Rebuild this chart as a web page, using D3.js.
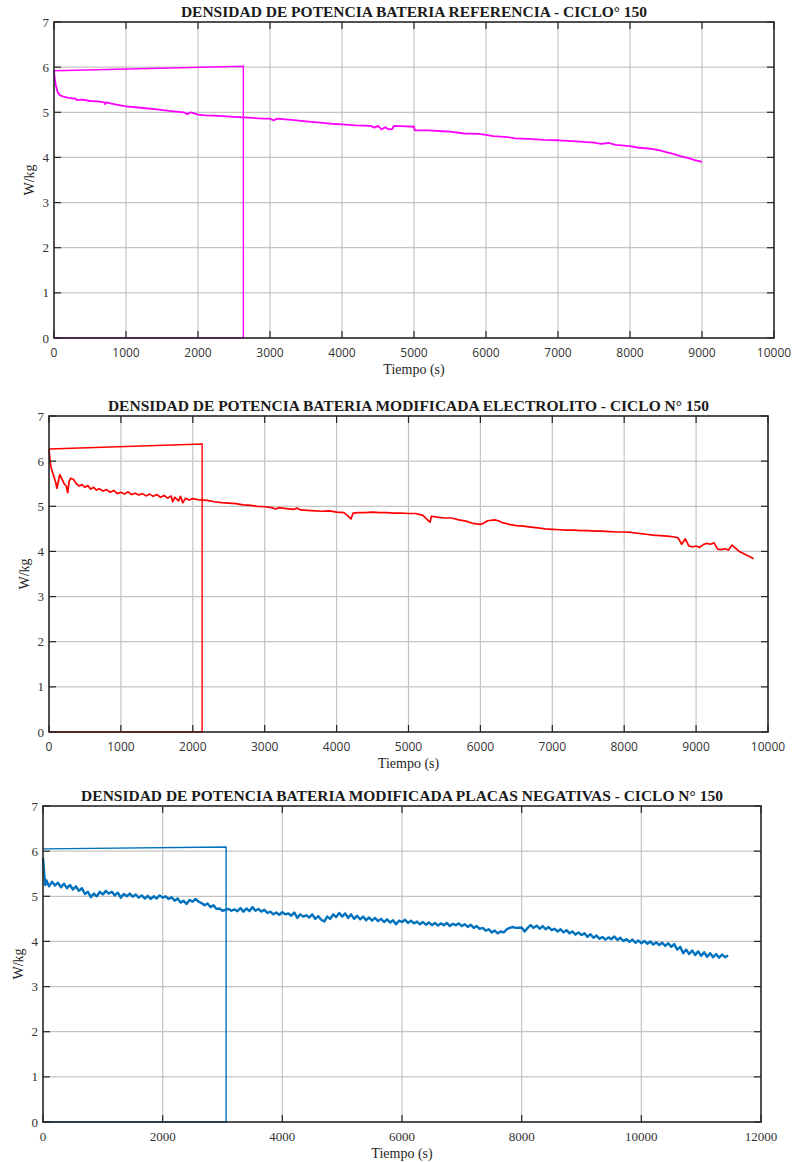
<!DOCTYPE html>
<html>
<head>
<meta charset="utf-8">
<script src="https://cdn.jsdelivr.net/npm/d3@7"></script>
<style>
  body { margin: 0; background: #fff; }
</style>
</head>
<body>
<div id="chart"></div>
<script>
// Power density data, pairs of [time (s), W/kg]
const yTicks = [0, 1, 2, 3, 4, 5, 6, 7];

const refLoop = [[0, 0], [2630, 0], [2630, 6.02], [0, 5.92]];
const refCurve = [[0,5.92],[10,5.75],[25,5.6],[50,5.45],[80,5.38],[120,5.35],[200,5.32],[300,5.3],[320,5.27],[400,5.28],
  [500,5.25],[600,5.24],[700,5.22],[710,5.18],[720,5.22],[800,5.19],[900,5.16],[1000,5.13],[1200,5.1],[1400,5.07],
  [1600,5.03],[1800,5.0],[1850,4.96],[1900,5.0],[2000,4.95],[2100,4.93],[2300,4.92],[2500,4.9],[2700,4.88],[2900,4.86],
  [3000,4.86],[3050,4.82],[3100,4.86],[3300,4.83],[3500,4.8],[3700,4.77],[3900,4.74],[4000,4.73],[4200,4.71],[4400,4.7],
  [4450,4.66],[4500,4.7],[4550,4.62],[4600,4.67],[4650,4.62],[4700,4.63],[4720,4.7],[4900,4.69],[5000,4.68],[5010,4.6],
  [5200,4.6],[5400,4.58],[5500,4.57],[5700,4.53],[5900,4.52],[6000,4.5],[6100,4.47],[6300,4.45],[6400,4.42],[6600,4.41],
  [6800,4.39],[7000,4.38],[7200,4.36],[7400,4.34],[7500,4.33],[7600,4.3],[7700,4.32],[7800,4.28],[8000,4.25],[8100,4.22],
  [8300,4.19],[8400,4.16],[8500,4.12],[8600,4.08],[8700,4.03],[8800,3.99],[8900,3.94],[9000,3.9]];

const elecLoop = [[0, 0], [2130, 0], [2130, 6.38], [0, 6.27]];
const elecCurve = [[0,6.27],[15,6.0],[30,5.85],[50,5.75],[70,5.65],[90,5.55],[110,5.4],[130,5.55],[150,5.7],[180,5.6],
  [210,5.5],[240,5.45],[260,5.3],[280,5.55],[300,5.62],[340,5.6],[380,5.5],[420,5.45],[460,5.48],[500,5.42],
  [540,5.46],[580,5.38],[620,5.42],[660,5.36],[700,5.39],[750,5.34],[800,5.37],[850,5.31],[900,5.35],[950,5.28],
  [1000,5.31],[1050,5.27],[1100,5.32],[1150,5.26],[1200,5.29],[1250,5.25],[1300,5.28],[1350,5.23],[1400,5.27],[1450,5.22],
  [1500,5.26],[1550,5.2],[1600,5.24],[1650,5.18],[1700,5.23],[1720,5.1],[1750,5.2],[1800,5.12],[1830,5.22],[1860,5.08],
  [1900,5.18],[1950,5.14],[2000,5.17],[2100,5.14],[2200,5.13],[2300,5.1],[2400,5.08],[2500,5.07],[2600,5.06],[2700,5.03],
  [2800,5.02],[2900,5.0],[3000,4.99],[3100,4.97],[3150,4.94],[3200,4.97],[3300,4.95],[3400,4.93],[3450,4.96],[3500,4.92],
  [3600,4.91],[3700,4.9],[3800,4.89],[3900,4.9],[4000,4.87],[4100,4.86],[4150,4.8],[4200,4.72],[4230,4.85],[4300,4.86],
  [4400,4.86],[4500,4.87],[4600,4.86],[4700,4.86],[4800,4.85],[4900,4.85],[5000,4.84],[5100,4.84],[5200,4.8],[5250,4.72],
  [5300,4.65],[5320,4.78],[5400,4.76],[5500,4.74],[5600,4.74],[5700,4.7],[5800,4.67],[5900,4.62],[6000,4.6],[6050,4.63],
  [6100,4.68],[6200,4.7],[6250,4.68],[6300,4.64],[6400,4.6],[6500,4.57],[6600,4.56],[6700,4.54],[6800,4.52],[6900,4.5],
  [7000,4.49],[7100,4.48],[7200,4.47],[7300,4.47],[7400,4.46],[7500,4.46],[7600,4.45],[7700,4.45],[7800,4.44],[7900,4.43],
  [8000,4.43],[8100,4.42],[8200,4.4],[8300,4.38],[8400,4.36],[8500,4.35],[8600,4.34],[8700,4.32],[8750,4.3],[8800,4.16],
  [8850,4.28],[8900,4.12],[8950,4.1],[9000,4.12],[9050,4.09],[9100,4.15],[9150,4.18],[9200,4.16],[9250,4.19],[9300,4.05],
  [9350,4.04],[9400,4.06],[9450,4.03],[9500,4.14],[9550,4.07],[9600,4.0],[9650,3.96],[9700,3.92],[9750,3.88],[9800,3.84]];

const negLoop = [[0, 0], [3060, 0], [3060, 6.09], [0, 6.05]];
const negCurve = [[0,5.85],[20,5.5],[40,5.25],[60,5.35],[100,5.22],[150,5.32],[200,5.24],[250,5.3],[300,5.2],[350,5.28],
  [400,5.18],[450,5.25],[500,5.15],[550,5.22],[600,5.12],[650,5.18],[700,5.05],[750,5.1],[800,4.98],[850,5.06],
  [900,5.0],[950,5.1],[1000,5.04],[1050,5.12],[1100,5.06],[1150,5.1],[1200,5.02],[1250,5.08],[1300,4.97],[1350,5.05],
  [1400,5.0],[1450,5.06],[1500,4.99],[1550,5.04],[1600,4.97],[1650,5.02],[1700,4.95],[1750,5.01],[1800,4.94],[1850,5.0],
  [1900,4.95],[1950,5.02],[2000,4.97],[2050,5.0],[2100,4.94],[2150,4.98],[2200,4.9],[2250,4.95],[2300,4.86],[2350,4.9],
  [2400,4.83],[2450,4.92],[2500,4.88],[2550,4.94],[2600,4.88],[2650,4.85],[2700,4.8],[2750,4.84],[2800,4.76],[2850,4.8],
  [2900,4.72],[2950,4.73],[3000,4.68],[3100,4.72],[3150,4.68],[3200,4.71],[3250,4.67],[3300,4.74],[3350,4.66],[3400,4.73],
  [3450,4.67],[3500,4.76],[3550,4.68],[3600,4.72],[3650,4.66],[3700,4.7],[3750,4.63],[3800,4.66],[3850,4.6],[3900,4.64],
  [3950,4.59],[4000,4.65],[4050,4.6],[4100,4.62],[4150,4.57],[4200,4.64],[4250,4.52],[4300,4.6],[4350,4.55],[4400,4.58],
  [4450,4.53],[4500,4.6],[4550,4.5],[4600,4.56],[4650,4.48],[4700,4.44],[4750,4.55],[4800,4.5],[4850,4.6],[4900,4.54],
  [4950,4.63],[5000,4.55],[5050,4.62],[5100,4.52],[5150,4.6],[5200,4.5],[5250,4.57],[5300,4.49],[5350,4.55],[5400,4.47],
  [5450,4.53],[5500,4.46],[5550,4.52],[5600,4.45],[5650,4.5],[5700,4.43],[5750,4.49],[5800,4.42],[5850,4.47],[5900,4.38],
  [5950,4.46],[6000,4.43],[6050,4.48],[6100,4.41],[6150,4.46],[6200,4.4],[6250,4.44],[6300,4.38],[6350,4.43],[6400,4.37],
  [6450,4.42],[6500,4.36],[6550,4.41],[6600,4.35],[6650,4.4],[6700,4.36],[6750,4.41],[6800,4.34],[6850,4.39],[6900,4.36],
  [6950,4.4],[7000,4.34],[7050,4.38],[7100,4.32],[7150,4.37],[7200,4.3],[7250,4.34],[7300,4.28],[7350,4.3],[7400,4.24],
  [7450,4.27],[7500,4.2],[7550,4.24],[7600,4.18],[7650,4.22],[7700,4.2],[7750,4.27],[7800,4.3],[7850,4.32],[7900,4.3],
  [8000,4.31],[8050,4.22],[8100,4.3],[8150,4.36],[8200,4.3],[8250,4.35],[8300,4.28],[8350,4.34],[8400,4.27],[8450,4.32],
  [8500,4.25],[8550,4.28],[8600,4.22],[8650,4.27],[8700,4.2],[8750,4.25],[8800,4.18],[8850,4.22],[8900,4.15],[8950,4.2],
  [9000,4.14],[9050,4.18],[9100,4.1],[9150,4.16],[9200,4.08],[9250,4.13],[9300,4.06],[9350,4.1],[9400,4.04],[9450,4.09],
  [9500,4.05],[9550,4.11],[9600,4.03],[9650,4.08],[9700,4.01],[9750,4.05],[9800,3.99],[9850,4.04],[9900,3.97],[9950,4.02],
  [10000,3.96],[10050,4.01],[10100,3.95],[10150,4.0],[10200,3.93],[10250,3.98],[10300,3.92],[10350,3.97],[10400,3.9],[10450,3.96],
  [10500,3.88],[10550,3.94],[10600,3.82],[10650,3.88],[10700,3.74],[10750,3.82],[10800,3.72],[10850,3.8],[10900,3.7],[10950,3.78],
  [11000,3.68],[11050,3.76],[11100,3.66],[11150,3.74],[11200,3.65],[11250,3.72],[11300,3.64],[11350,3.71],[11400,3.65],[11450,3.69]];

const xTicks10k = [0, 1000, 2000, 3000, 4000, 5000, 6000, 7000, 8000, 9000, 10000];
const xTicks12k = [0, 2000, 4000, 6000, 8000, 10000, 12000];

const width = 794, height = 1162;
const serif = "'Liberation Serif', 'Times New Roman', serif";
const sans = "'Open Sans', 'Liberation Sans', sans-serif";

const svg = d3.select("#chart").append("svg")
    .attr("width", width)
    .attr("height", height);

function drawPanel({ left, right, top, bottom, xMax, xTicks, xFont, title, color, lineWidth, loop, curve }) {
    const x = d3.scaleLinear().domain([0, xMax]).range([left, right]);
    const y = d3.scaleLinear().domain([0, 7]).range([bottom, top]);
    const g = svg.append("g");

    // grid
    g.append("g").selectAll("line").data(xTicks.slice(1, -1)).join("line")
        .attr("x1", d => x(d)).attr("x2", d => x(d))
        .attr("y1", top).attr("y2", bottom)
        .attr("stroke", "#c4c4c4").attr("stroke-width", 1.2);
    g.append("g").selectAll("line").data(yTicks.slice(1, -1)).join("line")
        .attr("x1", left).attr("x2", right)
        .attr("y1", d => y(d)).attr("y2", d => y(d))
        .attr("stroke", "#c4c4c4").attr("stroke-width", 1.2);

    // data: the rectangle-like loop first, then the discharge curve
    const line = d3.line().x(d => x(d[0])).y(d => y(d[1]));
    g.append("path")
        .datum(loop)
        .attr("fill", "none")
        .attr("stroke", color)
        .attr("stroke-width", 1.4)
        .attr("d", line);
    g.append("path")
        .datum(curve)
        .attr("fill", "none")
        .attr("stroke", color)
        .attr("stroke-width", lineWidth)
        .attr("stroke-linejoin", "round")
        .attr("d", line);

    // inward ticks on all sides (MATLAB box style)
    const tk = 7;
    const ticks = g.append("g").attr("stroke", "#262626").attr("stroke-width", 1.2);
    xTicks.forEach(t => {
        ticks.append("line").attr("x1", x(t)).attr("x2", x(t)).attr("y1", bottom).attr("y2", bottom - tk);
        ticks.append("line").attr("x1", x(t)).attr("x2", x(t)).attr("y1", top).attr("y2", top + tk);
    });
    yTicks.forEach(t => {
        ticks.append("line").attr("x1", left).attr("x2", left + tk).attr("y1", y(t)).attr("y2", y(t));
        ticks.append("line").attr("x1", right).attr("x2", right - tk).attr("y1", y(t)).attr("y2", y(t));
    });

    // box
    g.append("rect")
        .attr("x", left).attr("y", top)
        .attr("width", right - left).attr("height", bottom - top)
        .attr("fill", "none")
        .attr("stroke", "#262626")
        .attr("stroke-width", 1.6);

    // tick labels
    g.append("g").selectAll("text").data(xTicks).join("text")
        .attr("x", d => x(d))
        .attr("y", bottom + 19)
        .attr("text-anchor", "middle")
        .attr("font-family", xFont)
        .attr("font-size", xFont === serif ? "13px" : "12px")
        .attr("fill", "#333")
        .text(d => d);
    g.append("g").selectAll("text").data(yTicks).join("text")
        .attr("x", left - 5)
        .attr("y", d => y(d) + 4.5)
        .attr("text-anchor", "end")
        .attr("font-family", serif)
        .attr("font-size", "13px")
        .attr("fill", "#333")
        .text(d => d);

    // axis titles
    g.append("text")
        .attr("x", (left + right) / 2)
        .attr("y", bottom + 36)
        .attr("text-anchor", "middle")
        .attr("font-family", serif)
        .attr("font-size", "14px")
        .attr("fill", "#262626")
        .text("Tiempo (s)");
    g.append("text")
        .attr("transform", `translate(${left - 20},${(top + bottom) / 2}) rotate(-90)`)
        .attr("text-anchor", "middle")
        .attr("font-family", serif)
        .attr("font-size", "14px")
        .attr("fill", "#262626")
        .text("W/kg");

    // title
    g.append("text")
        .attr("x", (left + right) / 2)
        .attr("y", top - 5.5)
        .attr("text-anchor", "middle")
        .attr("font-family", serif)
        .attr("font-weight", "bold")
        .attr("font-size", "15.5px")
        .attr("fill", "#1a1a1a")
        .text(title);
}

drawPanel({
    left: 54, right: 774, top: 22, bottom: 338, xMax: 10000, xTicks: xTicks10k, xFont: sans,
    title: "DENSIDAD DE POTENCIA BATERIA REFERENCIA - CICLO° 150",
    color: "#ff00ff", lineWidth: 1.8, loop: refLoop, curve: refCurve
});
drawPanel({
    left: 49, right: 768, top: 416, bottom: 732, xMax: 10000, xTicks: xTicks10k, xFont: sans,
    title: "DENSIDAD DE POTENCIA BATERIA MODIFICADA ELECTROLITO - CICLO N° 150",
    color: "#ff0000", lineWidth: 1.7, loop: elecLoop, curve: elecCurve
});
drawPanel({
    left: 43, right: 761, top: 806, bottom: 1122, xMax: 12000, xTicks: xTicks12k, xFont: serif,
    title: "DENSIDAD DE POTENCIA BATERIA MODIFICADA PLACAS NEGATIVAS - CICLO N° 150",
    color: "#0072bd", lineWidth: 2.4, loop: negLoop, curve: negCurve
});
</script>
</body>
</html>
